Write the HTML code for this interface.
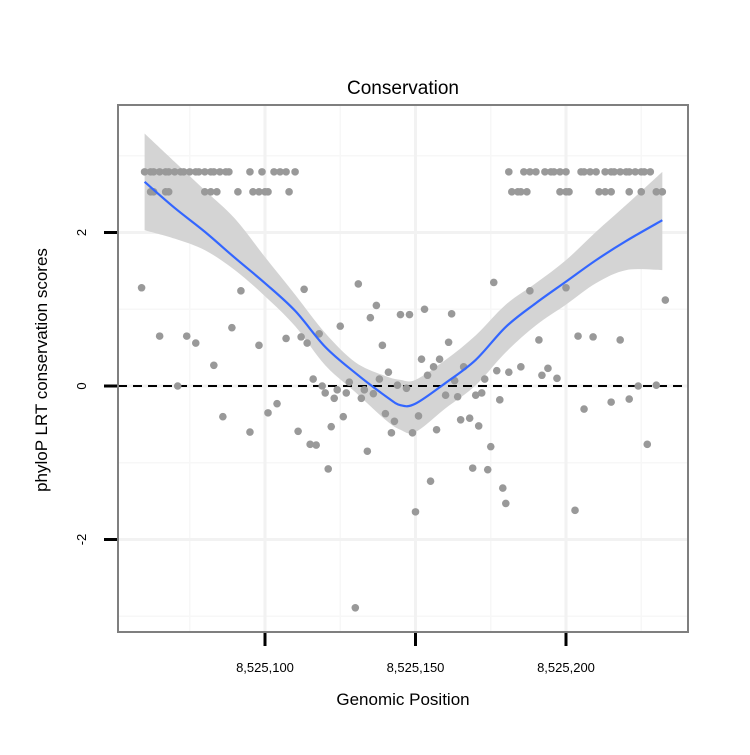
<!DOCTYPE html>
<html><head><meta charset="utf-8"><style>
body{margin:0;background:#fff;}
svg text{font-family:"Liberation Sans",sans-serif;}
</style></head><body>
<svg id="chart" width="750" height="750" xmlns="http://www.w3.org/2000/svg">
<rect x="0" y="0" width="750" height="750" fill="#fff"/>
<g id="grid"></g>
<g id="band"></g>
<g id="zero"></g>
<g id="pts"></g>
<g id="fit"></g>
<rect x="118" y="105" width="570" height="527" fill="none" stroke="#7f7f7f" stroke-width="2"/>
<g id="axes"></g>
<text x="403" y="94" font-size="19" text-anchor="middle">Conservation</text>
<text x="403" y="705" font-size="17" text-anchor="middle">Genomic Position</text>
<text transform="translate(47,370) rotate(-90)" font-size="17" text-anchor="middle">phyloP LRT conservation scores</text>
</svg>
<script>
const pointPos = [8525059,8525065,8525071,8525074,8525077,8525083,8525086,8525089,8525092,8525095,8525098,8525101,8525104,8525107,8525111,8525112,8525113,8525114,8525115,8525116,8525117,8525118,8525119,8525120,8525121,8525122,8525123,8525124,8525125,8525126,8525127,8525128,8525131,8525132,8525133,8525134,8525135,8525136,8525137,8525138,8525139,8525140,8525141,8525142,8525143,8525144,8525145,8525147,8525148,8525149,8525150,8525151,8525152,8525153,8525154,8525155,8525156,8525157,8525158,8525160,8525161,8525162,8525163,8525164,8525165,8525166,8525168,8525169,8525170,8525171,8525172,8525173,8525174,8525175,8525176,8525177,8525178,8525179,8525180,8525181,8525185,8525188,8525191,8525192,8525194,8525197,8525200,8525203,8525204,8525206,8525209,8525215,8525218,8525221,8525224,8525227,8525230,8525233,8525130];
const pointVal = [1.28,0.65,0.0,0.65,0.56,0.27,-0.40,0.76,1.24,-0.60,0.53,-0.35,-0.23,0.62,-0.59,0.64,1.26,0.56,-0.76,0.09,-0.77,0.68,0.0,-0.09,-1.08,-0.53,-0.16,-0.05,0.78,-0.40,-0.09,0.05,1.33,-0.16,-0.05,-0.85,0.89,-0.10,1.05,0.09,0.53,-0.36,0.18,-0.61,-0.46,0.01,0.93,-0.03,0.93,-0.61,-1.64,-0.39,0.35,1.0,0.14,-1.24,0.25,-0.57,0.35,-0.12,0.57,0.94,0.07,-0.14,-0.44,0.25,-0.42,-1.07,-0.12,-0.52,-0.09,0.09,-1.09,-0.79,1.35,0.20,-0.18,-1.33,-1.53,0.18,0.25,1.24,0.60,0.14,0.23,0.10,1.28,-1.62,0.65,-0.30,0.64,-0.21,0.60,-0.17,0.0,-0.76,0.01,1.12,-2.89];
const highPos = [8525060,8525062,8525063,8525065,8525067,8525068,8525070,8525072,8525073,8525075,8525077,8525078,8525080,8525082,8525083,8525085,8525087,8525088,8525095,8525099,8525103,8525105,8525107,8525110,8525181,8525186,8525188,8525190,8525193,8525195,8525196,8525198,8525200,8525205,8525206,8525208,8525210,8525213,8525215,8525216,8525218,8525220,8525221,8525223,8525225,8525226,8525228];
const highVal = 2.79;
const midPos = [8525062,8525063,8525067,8525068,8525080,8525082,8525084,8525091,8525096,8525098,8525100,8525101,8525108,8525182,8525184,8525185,8525187,8525198,8525200,8525201,8525211,8525213,8525215,8525221,8525225,8525230,8525232];
const midVal = 2.53;
const fitX = [8525060,8525070,8525080,8525090,8525100,8525110,8525120,8525130,8525140,8525145,8525150,8525160,8525170,8525180,8525190,8525200,8525210,8525220,8525232];
const fitY = [2.66,2.32,2.01,1.67,1.34,0.98,0.51,0.17,-0.13,-0.25,-0.23,0.04,0.34,0.77,1.08,1.36,1.64,1.89,2.16];
const fitHi = [3.29,2.92,2.55,2.18,1.68,1.19,0.69,0.31,0.13,0.08,0.08,0.34,0.66,1.06,1.34,1.64,2.01,2.36,2.79];
const fitLo = [2.03,1.92,1.77,1.51,1.17,0.78,0.27,-0.08,-0.44,-0.57,-0.60,-0.29,0.01,0.44,0.79,1.06,1.34,1.51,1.51];
const xTicks = [8525100,8525150,8525200];
const xTickLabels = ["8,525,100","8,525,150","8,525,200"];
const yTicks = [2,0,-2];
const yTickLabels = ["2","0","-2"];

const NS="http://www.w3.org/2000/svg";
const xs = v => 265 + (v-8525100)*3.01;
const ys = v => 386 - v*76.75;
function mk(tag, attrs, parent){const e=document.createElementNS(NS,tag);for(const k in attrs)e.setAttribute(k,attrs[k]);parent.appendChild(e);return e;}
function spline(P){let s='';for(let i=0;i<P.length-1;i++){const p0=P[Math.max(0,i-1)],p1=P[i],p2=P[i+1],p3=P[Math.min(P.length-1,i+2)];
const c1=[p1[0]+(p2[0]-p0[0])/6,p1[1]+(p2[1]-p0[1])/6],c2=[p2[0]-(p3[0]-p1[0])/6,p2[1]-(p3[1]-p1[1])/6];
s+=' C'+c1+' '+c2+' '+p2;}return s;}
const grid=document.getElementById('grid');
[8525075,8525125,8525175,8525225].forEach(v=>{const l=mk('line',{x1:xs(v),x2:xs(v),y1:105,y2:632,stroke:'#f7f7f7','stroke-width':1.5},grid);

});
[3,1,-1,-3].forEach(v=>{const l=mk('line',{x1:118,x2:688,y1:ys(v),y2:ys(v),stroke:'#f7f7f7','stroke-width':1.5},grid);

});
xTicks.forEach(v=>{const l=mk('line',{x1:xs(v),x2:xs(v),y1:105,y2:632,stroke:'#f2f2f2','stroke-width':3},grid);

});
yTicks.forEach(v=>{const l=mk('line',{x1:118,x2:688,y1:ys(v),y2:ys(v),stroke:'#f2f2f2','stroke-width':3},grid);

});
const hiP=fitX.map((x,i)=>[xs(x),ys(fitHi[i])]);
const loP=fitX.map((x,i)=>[xs(x),ys(fitLo[i])]).reverse();
const d='M'+hiP[0]+spline(hiP)+' L'+loP[0]+spline(loP)+'Z';
const band=mk('path',{d:d,fill:'#d4d4d4'},document.getElementById('band'));


const z=mk('line',{x1:118,x2:688,y1:ys(0),y2:ys(0),stroke:'#000','stroke-width':2,'stroke-dasharray':'9,6'},document.getElementById('zero'));


const pts=document.getElementById('pts');
function dot(x,y){const c=mk('circle',{cx:xs(x),cy:ys(y),r:3.8,fill:'#999'},pts);

}
pointPos.forEach((p,i)=>dot(p,pointVal[i]));
highPos.forEach(p=>dot(p,highVal));
midPos.forEach(p=>dot(p,midVal));
const fP=fitX.map((x,i)=>[xs(x),ys(fitY[i])]);
const fl=mk('path',{d:'M'+fP[0]+spline(fP),fill:'none',stroke:'#3366FF','stroke-width':2.2,'stroke-linejoin':'round'},document.getElementById('fit'));


const ax=document.getElementById('axes');
xTicks.forEach((v,i)=>{const t=mk('line',{x1:xs(v),x2:xs(v),y1:633,y2:646,stroke:'#000','stroke-width':3},ax);


const tx=mk('text',{x:xs(v),y:672,'font-size':13,'text-anchor':'middle'},ax);tx.textContent=xTickLabels[i];

});
yTicks.forEach((v,i)=>{const t=mk('line',{x1:104,x2:117,y1:ys(v),y2:ys(v),stroke:'#000','stroke-width':3},ax);


const tx=mk('text',{transform:'translate(86,'+ys(v)+') rotate(-90)','font-size':13,'text-anchor':'middle'},ax);tx.textContent=yTickLabels[i];

});
</script>
</body></html>
